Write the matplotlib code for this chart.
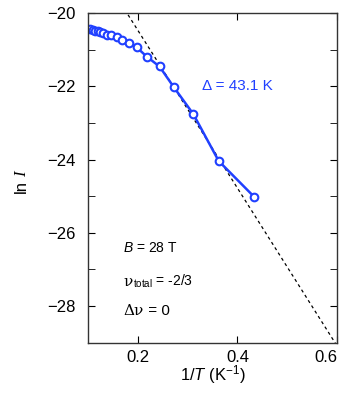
import matplotlib
matplotlib.use("Agg")
import matplotlib.pyplot as plt
import numpy as np

plt.rcParams['font.family'] = ['Liberation Sans', 'DejaVu Sans']
plt.rcParams['mathtext.fontset'] = 'custom'
plt.rcParams['mathtext.rm'] = 'Liberation Sans'
plt.rcParams['mathtext.it'] = 'Liberation Sans:italic'

# data
inv_T = [0.104, 0.1095, 0.1147, 0.1195, 0.124, 0.131, 0.1377, 0.1463, 0.158,
         0.169, 0.1826, 0.198, 0.218, 0.2436, 0.2726, 0.3115, 0.3624, 0.433]
ln_I = [-20.44, -20.46, -20.48, -20.49, -20.51, -20.55, -20.59, -20.61, -20.66,
        -20.74, -20.83, -20.94, -21.19, -21.46, -22.03, -22.76, -24.04, -25.01]

gap = 43.1          # K
fit_offset = -16.16  # intercept of the activation fit
fit_x = [0.0, 0.7]

blue = '#2040ff'

fig = plt.figure(figsize=(3.49, 3.94), dpi=100)
ax = fig.add_axes([0.252, 0.130, 0.714, 0.837])

fx = np.array(fit_x)
ax.plot(fx, fit_offset - gap / 2 * fx, color='black', ls=(0, (2.5, 2.5)), lw=0.9)
ax.plot(inv_T, ln_I, '-o', color=blue, lw=1.8, ms=5.5, mew=1.5, mfc='white')

ax.set_xlim(0.1, 0.6)
ax.set_ylim(-29, -20)
ax.set_xticks([0.2, 0.4, 0.6])
ax.set_xticklabels(['0.2', '0.4', '0.6'])
ax.get_xticklabels()[-1].set_ha('right')
ax.set_yticks([-20, -22, -24, -26, -28])
ax.set_yticks(np.arange(-29, -19, 1), minor=True)
ax.tick_params(which='both', direction='in', top=True, right=True, labelsize=12, length=5)
ax.tick_params(axis='y', pad=9)
ax.tick_params(axis='x', pad=5)
for s in ax.spines.values():
    s.set_linewidth(1.0)
    s.set_color('#333333')

# y label "ln I" with a serif italic I, built from two rotated texts
fig.text(0.062, 0.527, 'ln', rotation=90, fontsize=12, ha='center', va='center')
fig.text(0.062, 0.559, 'I', rotation=90, fontsize=12, ha='center', va='center',
         family=['Liberation Serif'], style='italic')
ax.set_xlabel(r'$1/T$ (K$^{-1}$)', fontsize=12, labelpad=-1)

ax.text(0.329, -22.0, 'Δ = 43.1 K', color=blue, fontsize=11, va='center')
ax.text(0.171, -26.4, r'$B$ = 28 T', fontsize=10, va='center')
t1 = ax.text(0.171, -27.45, 'ν', fontsize=11, va='baseline', family=['DejaVu Serif'])
ax.annotate(r'$_{\rm total}$ = -2/3', xy=(1, 0.22), xycoords=t1, fontsize=10, va='baseline')
t2 = ax.text(0.171, -28.25, 'Δν', fontsize=11, va='baseline', family=['DejaVu Serif'])
ax.annotate(' = 0', xy=(1, 0.2), xycoords=t2, fontsize=11, va='baseline')

fig.savefig('out.png', dpi=100)
